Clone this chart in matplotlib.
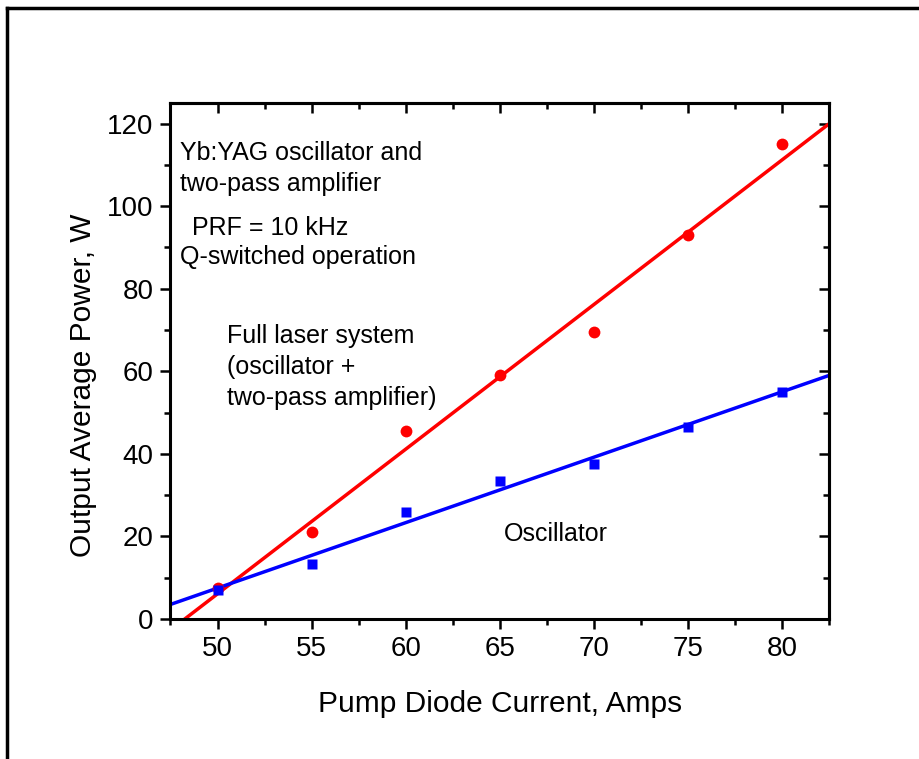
import numpy as np
import matplotlib.pyplot as plt
from matplotlib.lines import Line2D
from matplotlib.ticker import MultipleLocator

# pump current (A) and measured output power (W)
current = [50, 55, 60, 65, 70, 75, 80]
power_full = [7.5, 21.0, 45.5, 59.0, 69.5, 93.0, 115.0]
power_osc = [7.0, 13.3, 26.0, 33.5, 37.5, 46.5, 55.0]

plt.rcParams["font.family"] = ["Liberation Sans", "DejaVu Sans"]

fig = plt.figure(figsize=(9.2, 7.59), dpi=100)
ax = fig.add_axes([0.1853, 0.1845, 0.7158, 0.6798])

xlim = (47.5, 82.5)
ylim = (0, 125)
xfit = np.array(xlim)

# linear fits
pf = np.polyfit(current, power_full, 1)
po = np.polyfit(current, power_osc, 1)
ax.plot(xfit, np.polyval(pf, xfit), color="#ff0000", lw=2.5, zorder=2)
ax.plot(xfit, np.polyval(po, xfit), color="#0000ff", lw=2.5, zorder=2)

ax.plot(current, power_full, "o", color="#ff0000", ms=8.5, mec="none", zorder=3)
ax.plot(current, power_osc, "s", color="#0000ff", ms=7, mec="none", zorder=3)

ax.set_xlim(*xlim)
ax.set_ylim(*ylim)
ax.xaxis.set_major_locator(MultipleLocator(5))
ax.xaxis.set_minor_locator(MultipleLocator(2.5))
ax.yaxis.set_major_locator(MultipleLocator(20))
ax.yaxis.set_minor_locator(MultipleLocator(10))

for s in ax.spines.values():
    s.set_linewidth(2.2)

ax.tick_params(which="major", direction="out", length=7.2, width=1.8,
               labelsize=20, pad=5)
ax.tick_params(which="minor", direction="out", length=4.3, width=1.8)

# top and right ticks point inward
axt = ax.secondary_xaxis("top")
axt.xaxis.set_major_locator(MultipleLocator(5))
axt.xaxis.set_minor_locator(MultipleLocator(2.5))
axt.tick_params(which="major", direction="in", length=7.2, width=1.8, labeltop=False)
axt.tick_params(which="minor", direction="in", length=4.3, width=1.8)
axr = ax.secondary_yaxis("right")
axr.yaxis.set_major_locator(MultipleLocator(20))
axr.yaxis.set_minor_locator(MultipleLocator(10))
axr.tick_params(which="major", direction="in", length=7.2, width=1.8, labelright=False)
axr.tick_params(which="minor", direction="in", length=4.3, width=1.8)
for a in (axt, axr):
    for s in a.spines.values():
        s.set_linewidth(2.2)

ax.set_xlabel("Pump Diode Current, Amps", fontsize=21.5)
ax.set_ylabel("Output Average Power, W", fontsize=21.5)
ax.xaxis.set_label_coords(0.5, -0.137)
ax.yaxis.set_label_coords(-0.112, 0.4535)

fs = 18
ax.text(48.0, 109.1, "Yb:YAG oscillator and\ntwo-pass amplifier",
        fontsize=fs, va="center", ha="left", linespacing=1.38)
ax.text(48.65, 94.6, "PRF = 10 kHz", fontsize=fs, va="center", ha="left")
ax.text(48.0, 87.8, "Q-switched operation", fontsize=fs, va="center", ha="left")
ax.text(50.5, 61.0, "Full laser system\n(oscillator +\ntwo-pass amplifier)",
        fontsize=fs, va="center", ha="left", linespacing=1.38)
ax.text(65.2, 20.6, "Oscillator", fontsize=fs, va="center", ha="left")

# outer frame (top and left edges only)
fig.add_artist(Line2D([0.0076, 1.0], [0.9895, 0.9895], color="black", lw=2.5,
                      transform=fig.transFigure))
fig.add_artist(Line2D([0.0076, 0.0076], [0.0, 0.9895], color="black", lw=2.5,
                      transform=fig.transFigure))

fig.savefig("out.png", dpi=100)
